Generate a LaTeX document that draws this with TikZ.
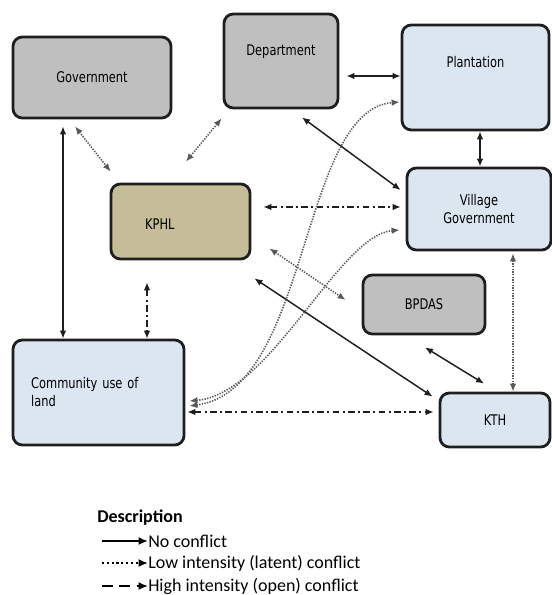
\documentclass[tikz,border=0pt]{standalone}
\usepackage{fontspec}
\usetikzlibrary{arrows.meta,calc}
\newfontfamily\boxfont[FakeStretch=0.78]{DejaVu Sans}
\newfontfamily\legendfont{Carlito}
\definecolor{boxGray}{RGB}{191,191,191}
\definecolor{boxBlue}{RGB}{220,230,241}
\definecolor{boxKhaki}{RGB}{196,189,151}
\definecolor{edgeInk}{RGB}{30,30,30}
\tikzset{
  actor/.style={draw=edgeInk,line width=2.1pt,rounded corners=7pt,text=black,align=center,inner sep=0pt,font=\boxfont\fontsize{11}{13.5}\selectfont},
  actor gray/.style={actor,fill=boxGray},
  actor blue/.style={actor,fill=boxBlue},
  actor khaki/.style={actor,fill=boxKhaki},
  no conflict/.style={{Latex[length=6pt,width=5pt]}-{Latex[length=6pt,width=5pt]},line width=1.1pt,draw=edgeInk},
  latent/.style={{Latex[length=6pt,width=5pt]}-{Latex[length=6pt,width=5pt]},line width=1.2pt,draw=black!65,dash pattern=on 1pt off 1pt},
  open conflict/.style={{Latex[length=6pt,width=5pt]}-{Latex[length=6pt,width=5pt]},line width=1pt,draw=edgeInk,dash pattern=on 5pt off 2.5pt on 1.5pt off 2.5pt},
  legend text/.style={anchor=west,inner sep=0pt,font=\legendfont\fontsize{13.5}{16}\selectfont},
  legend arrow/.style={-{Latex[length=7pt,width=6pt]},line width=1.6pt}
}
\begin{document}
\begin{tikzpicture}[x=0.75pt,y=-0.75pt]
  \useasboundingbox (0,0) rectangle (552,595);
  % actors
  \node[actor gray,minimum width=118.5pt,minimum height=60.75pt] (gov) at (92,77.5) {Government};
  \node[actor gray,minimum width=85.5pt,minimum height=70.5pt,text depth=16.5pt] (dept) at (281,61) {Department};
  \node[actor blue,minimum width=110.25pt,minimum height=78.75pt,text depth=23.4pt] (plant) at (475.5,77.5) {Plantation};
  \node[actor blue,minimum width=108pt,minimum height=61.5pt] (village) at (479,209) {Village\\Government};
  \node[actor khaki,minimum width=104.25pt,minimum height=56.25pt,text width=53pt,align=left,text height=12.5pt,text depth=0pt] (kphl) at (180.5,221.5) {KPHL};
  \node[actor gray,minimum width=91.5pt,minimum height=44.25pt] (bpdas) at (424,304.5) {BPDAS};
  \node[actor blue,minimum width=128.25pt,minimum height=78.75pt,text width=101pt,align=left] (comm) at (98.5,392.5) {Community use of\\land};
  \node[actor blue,minimum width=82.5pt,minimum height=40.5pt] (kth) at (495,420) {KTH};
  % relations
  \draw[no conflict] ($(gov.south)+(-29,7)$) -- ($(comm.north)+(-35.5,0)$);
  \draw[latent] ($(gov.south)+(-17,7)$) -- ($(kphl.north west)+(1,-11)$);
  \draw[latent] ($(dept.south west)+(-1,9)$) -- ($(kphl.north)+(5.5,-21)$);
  \draw[no conflict] ($(dept.east)+(7,15)$) -- ($(plant.west)+(0,-1.5)$);
  \draw[no conflict] ($(dept.south)+(21,8)$) -- ($(village.west)+(-5,-19)$);
  \draw[no conflict] ($(plant.south)+(4.5,0)$) -- ($(village.north)+(1,0)$);
  \draw[open conflict] ($(kphl.east)+(12,-14.5)$) -- ($(village.west)+(-5,-2)$);
  \draw[latent] ($(kphl.south east)+(18,-12)$) -- ($(bpdas.west)+(-16,-4.5)$);
  \draw[no conflict] ($(kphl.south east)+(3,18)$) -- ($(kth.north west)+(-6,5)$);
  \draw[open conflict] ($(kphl.south)+(-33.5,22)$) -- ($(comm.north)+(48.5,0)$);
  \draw[open conflict] ($(comm.east)+(2,19.5)$) -- ($(kth.west)+(-5,-8)$);
  \draw[latent] ($(comm.east)+(4,13.5)$) .. controls +(121,-16) and +(-100,8) .. ($(plant.west)+(-1,24.5)$);
  \draw[latent] ($(comm.east)+(4,8.5)$) .. controls +(82,-7) and +(-61,5) .. ($(village.west)+(-6,21)$);
  \draw[no conflict] ($(bpdas.south)+(1,12)$) -- ($(kth.north)+(-11,-8)$);
  \draw[latent] ($(village.south)+(34,2)$) -- ($(kth.north)+(18,0)$);
  % legend
  \node[legend text,font=\legendfont\bfseries\fontsize{13.5}{16}\selectfont] (desc) at (97,518) {Description};
  \node[legend text] (leg none) at (148,541) {No conflict};
  \node[legend text] (leg latent) at (148,563) {Low intensity (latent) conflict};
  \node[legend text] (leg open) at (148,586) {High intensity (open) conflict};
  \draw[legend arrow] ($(leg none.west)+(-46,0)$) -- (leg none.west);
  \draw[legend arrow,dash pattern=on 1.6pt off 2pt] ($(leg latent.west)+(-46,0)$) -- (leg latent.west);
  \draw[legend arrow,dash pattern=on 8pt off 5pt] ($(leg open.west)+(-46,0)$) -- (leg open.west);
\end{tikzpicture}
\end{document}
